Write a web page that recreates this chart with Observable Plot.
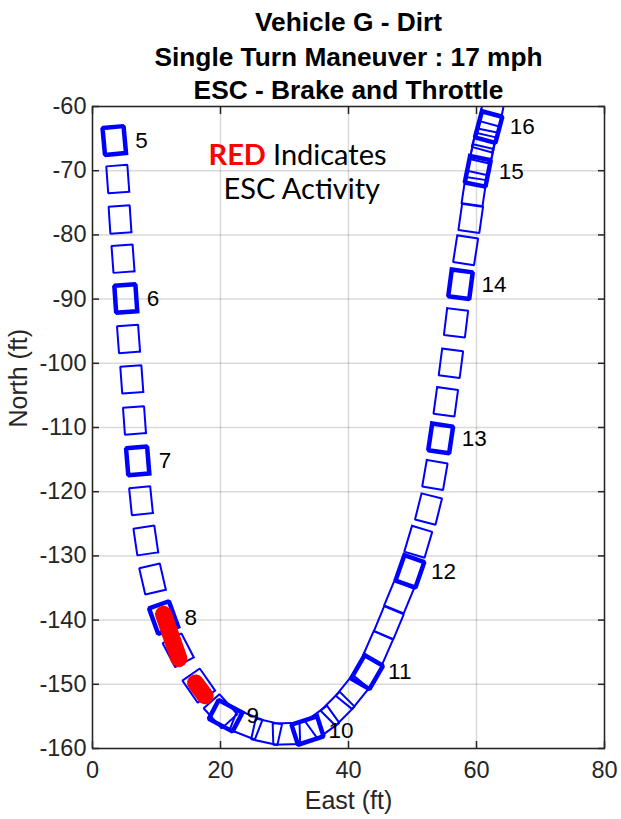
<!DOCTYPE html>
<html>
<head>
<meta charset="utf-8">
<script src="https://cdn.jsdelivr.net/npm/d3@7"></script>
<script src="https://cdn.jsdelivr.net/npm/@observablehq/plot@0.6"></script>
<style>
  html, body { margin: 0; padding: 0; background: #fff; }
  #chart { width: 621px; height: 819px; }
</style>
</head>
<body>
<div id="chart"></div>
<script>
// ---- data ----
const titleLines = ["Vehicle G - Dirt", "Single Turn Maneuver : 17 mph", "ESC - Brake and Throttle"];
const xLabel = "East (ft)";
const yLabel = "North (ft)";
const xTicks = [0, 20, 40, 60, 80];
const yTicks = [-160, -150, -140, -130, -120, -110, -100, -90, -80, -70, -60];

// vehicle outline centres (ft), sampled along the path
const boxEast = [3.4, 3.95, 4.3, 4.77, 5.2, 5.63, 6.14, 6.56, 7.06, 7.58, 8.33, 9.38,
  11.1, 13.4, 16.6, 20.0, 20.8, 24.0, 27.2, 30.3, 33.6, 35.9, 38.3, 40.6,
  42.9, 44.6, 46.3, 47.9, 49.6, 50.9, 52.5, 53.5, 54.4, 55.2, 56.0, 56.8,
  57.5, 58.3, 59.1, 59.6, 60.2, 60.6, 61.0, 61.4, 61.9, 62.2];
const boxNorth = [-65.3, -71.3, -77.6, -83.7, -89.9, -96.2, -102.5, -108.9, -115.2, -121.4, -127.6, -133.6,
  -139.6, -144.7, -150.2, -154.2, -154.9, -156.3, -157.4, -157.7, -157.2, -155.9, -153.8, -151.2,
  -148.1, -144.3, -140.4, -136.4, -132.4, -127.8, -122.7, -117.4, -111.7, -106.0, -100.0, -93.7,
  -87.7, -82.4, -77.4, -73.3, -70.1, -68.3, -66.5, -64.7, -63.2, -61.7];
// time stamp (s) written next to the outline drawn at each whole second
const boxStamp = ["5", "", "", "", "6", "", "", "", "7", "", "", "",
  "8", "", "", "", "9", "", "", "", "10", "", "", "",
  "11", "", "", "", "12", "", "", "", "13", "", "", "",
  "14", "", "", "", "15", "", "", "", "16", ""];

// ESC activity (red) path pieces
const escEast = [11.1, 13.5, 16.1, 17.6];
const escNorth = [-139.1, -146.0, -149.8, -151.8];
const escPiece = [1, 1, 2, 2];

const noteRed = "RED";
const noteRest = "Indicates";
const noteLine2 = "ESC Activity";

// vehicle outline size (ft)
const vehLength = 4.2, vehWidth = 3.3;

// ---- build outline polygons from centres + local heading ----
const n = boxEast.length;
const outlines = [];
for (let i = 0; i < n; i++) {
  const a = Math.max(0, i - 1), b = Math.min(n - 1, i + 1);
  let dx = boxEast[b] - boxEast[a], dy = boxNorth[b] - boxNorth[a];
  const len = Math.hypot(dx, dy) || 1;
  const ux = dx / len, uy = dy / len, nx = -uy, ny = ux;
  const hl = vehLength / 2, hw = vehWidth / 2;
  const corners = [[hl, hw], [hl, -hw], [-hl, -hw], [-hl, hw], [hl, hw]];
  for (const [p, q] of corners) {
    outlines.push({
      id: i,
      thick: boxStamp[i] !== "",
      x: boxEast[i] + p * ux + q * nx,
      y: boxNorth[i] + p * uy + q * ny
    });
  }
}
const stamps = boxEast.map((x, i) => ({x, y: boxNorth[i], t: boxStamp[i]})).filter(d => d.t !== "");
const esc = escEast.map((x, i) => ({x, y: escNorth[i], seg: escPiece[i]}));

const axisColor = "#262626";
const sans = "'Liberation Sans', Arial, Helvetica, sans-serif";
const plainNum = d => String(d);

const chart = Plot.plot({
  width: 621,
  height: 819,
  marginLeft: 92,
  marginRight: 17,
  marginTop: 106,
  marginBottom: 71,
  style: {fontFamily: sans, background: "#fff", color: axisColor},
  x: {domain: [0, 80], ticks: xTicks},
  y: {domain: [-160, -60], ticks: yTicks},
  marks: [
    Plot.gridX(xTicks, {stroke: "#000", strokeOpacity: 0.15, strokeWidth: 1.5}),
    Plot.gridY(yTicks, {stroke: "#000", strokeOpacity: 0.15, strokeWidth: 1.5}),
    Plot.line(outlines.filter(d => !d.thick), {x: "x", y: "y", z: "id", stroke: "#0000ff", strokeWidth: 2, strokeLinejoin: "miter", strokeLinecap: "square", clip: true}),
    Plot.line(outlines.filter(d => d.thick), {x: "x", y: "y", z: "id", stroke: "#0000ff", strokeWidth: 4.5, strokeLinejoin: "miter", strokeLinecap: "square", clip: true}),
    Plot.line(esc, {x: "x", y: "y", z: "seg", stroke: "#ff0000", strokeWidth: 17, strokeLinecap: "round"}),
    Plot.text(stamps, {x: "x", y: "y", text: "t", textAnchor: "start", dx: 21, fontSize: 22.5, fill: "#000", fontFamily: sans}),
    // annotation
    Plot.text([noteRed], {x: 27.1, y: -67.6, textAnchor: "end", fontSize: 29, fontWeight: "bold", fill: "#ff0000", fontFamily: "Lato, sans-serif"}),
    Plot.text([noteRest], {x: 28.2, y: -67.6, textAnchor: "start", fontSize: 29, fill: "#000", fontFamily: "Lato, sans-serif"}),
    Plot.text([noteLine2], {x: 32.7, y: -72.9, textAnchor: "middle", fontSize: 29, fill: "#000", fontFamily: "Lato, sans-serif"}),
    // frame and axes (ticks inside, box on)
    Plot.frame({stroke: axisColor, strokeWidth: 1.5}),
    Plot.axisX(xTicks, {anchor: "bottom", tickSize: -7, tickPadding: 20, fontSize: 23.5, label: null, color: axisColor, strokeWidth: 1.5, tickFormat: plainNum}),
    Plot.axisX(xTicks, {anchor: "top", tickSize: -7, tickFormat: () => "", label: null, color: axisColor, strokeWidth: 1.5}),
    Plot.axisY(yTicks, {anchor: "left", tickSize: -7, tickPadding: 13, fontSize: 23.5, label: null, color: axisColor, strokeWidth: 1.5, tickFormat: plainNum}),
    Plot.axisY(yTicks, {anchor: "right", tickSize: -7, tickFormat: () => "", label: null, color: axisColor, strokeWidth: 1.5}),
    // titles and axis labels
    Plot.text([titleLines[0]], {frameAnchor: "top", dy: -84, fontSize: 26.3, fontWeight: "bold", fill: "#000", lineAnchor: "middle"}),
    Plot.text([titleLines[1]], {frameAnchor: "top", dy: -49, fontSize: 26.3, fontWeight: "bold", fill: "#000", lineAnchor: "middle"}),
    Plot.text([titleLines[2]], {frameAnchor: "top", dy: -16, fontSize: 26.3, fontWeight: "bold", fill: "#000", lineAnchor: "middle"}),
    Plot.text([xLabel], {frameAnchor: "bottom", dy: 52, fontSize: 25, fill: axisColor, lineAnchor: "middle"}),
    Plot.text([yLabel], {frameAnchor: "left", dx: -74, rotate: -90, fontSize: 25, fill: axisColor, lineAnchor: "middle"})
  ]
});
document.getElementById("chart").appendChild(chart);
</script>
</body>
</html>
